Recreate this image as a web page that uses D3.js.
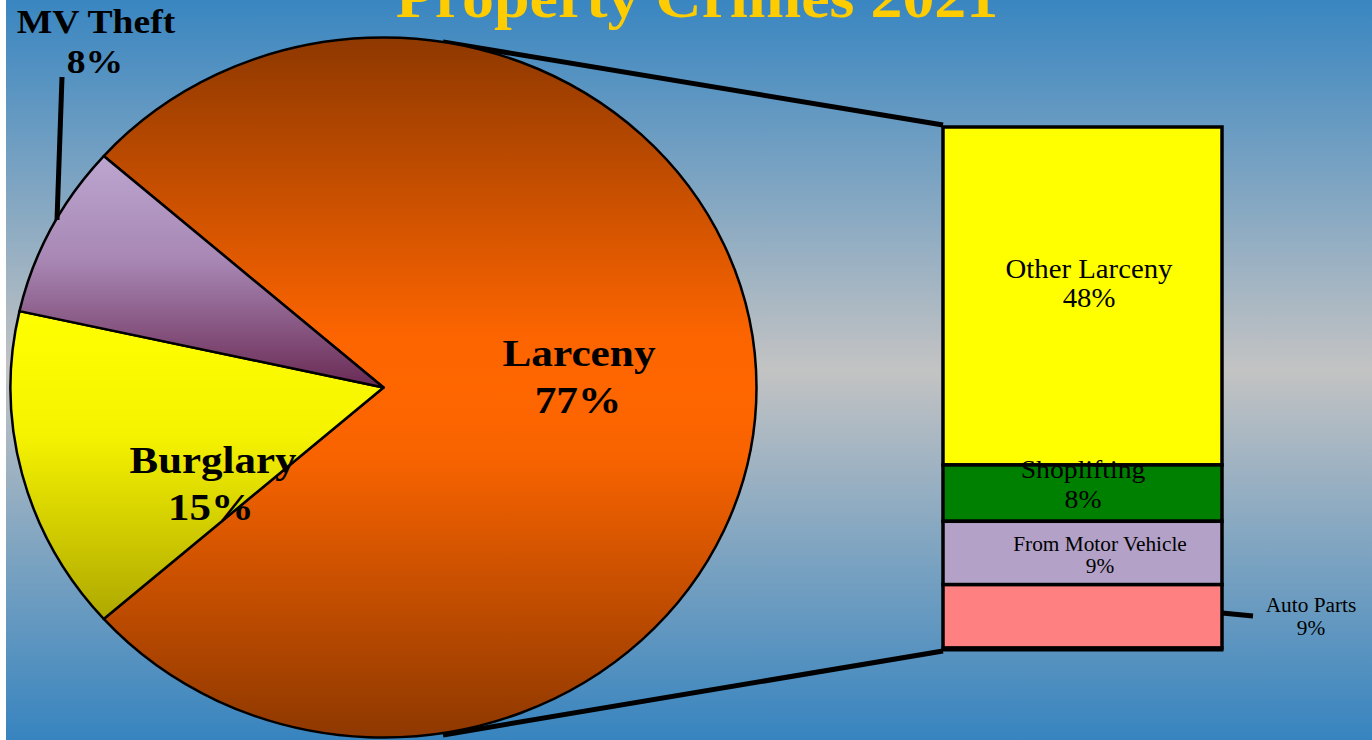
<!DOCTYPE html>
<html>
<head>
<meta charset="utf-8">
<script src="https://cdn.jsdelivr.net/npm/d3@7"></script>
<style>
  html, body { margin: 0; padding: 0; background: #fff; }
  svg { display: block; }
  text { font-family: "Liberation Serif", "Times New Roman", serif; }
</style>
</head>
<body>
<div id="chart"></div>
<script>
const WIDTH = 1372;
const HEIGHT = 740;

// data
const titleText = "Property Crimes 2021";
const pieNames = ["Larceny", "Burglary", "MV Theft"];
const pieValues = [77, 15, 8];
const barNames = ["Other Larceny", "Shoplifting", "From Motor Vehicle", "Auto Parts"];
const barValues = [48, 8, 9, 9];

// layout
const cx = 383.5, cy = 387.5, rx = 373, ry = 350;
const barLeft = 943, barRight = 1222, barTop = 127, barBottom = 648;
const sx = 1.066; // horizontal stretch of the picture

const svg = d3.select("#chart").append("svg")
    .attr("width", WIDTH)
    .attr("height", HEIGHT);
const defs = svg.append("defs");

function vgrad(id, stops) {
  const g = defs.append("linearGradient").attr("id", id)
      .attr("x1", 0).attr("y1", 0).attr("x2", 0).attr("y2", 1);
  stops.forEach(s => g.append("stop").attr("offset", s[0]).attr("stop-color", s[1]));
}
vgrad("bg", [[0, "#3986c1"], [0.5, "#c3c3c3"], [1, "#3784bf"]]);
vgrad("g0", [[0, "#8e3800"], [0.42, "#fb6400"], [0.5, "#ff6600"], [0.6, "#f86300"], [1, "#8e3800"]]);
vgrad("g1", [[0, "#ffff00"], [0.4, "#f6f300"], [1, "#aea800"]]);
vgrad("g2", [[0, "#bca6d0"], [0.45, "#a887b4"], [1, "#692a54"]]);

// background (white strip on the left edge)
svg.append("rect").attr("x", 6).attr("y", 0)
    .attr("width", WIDTH - 6).attr("height", HEIGHT)
    .attr("fill", "url(#bg)");

// leader lines from pie to bar
const lead = d3.line();
svg.append("path").attr("d", lead([[443, 42], [barLeft, 125]]))
    .attr("stroke", "#000").attr("stroke-width", 5).attr("fill", "none");
svg.append("path").attr("d", lead([[443, 735], [barLeft, 651]]))
    .attr("stroke", "#000").attr("stroke-width", 5).attr("fill", "none");

// pie (slightly elliptical)
const start = Math.PI / 2 - Math.PI * pieValues[0] / 100;
const pie = d3.pie().sort(null)
    .startAngle(start)
    .endAngle(start + 2 * Math.PI);
const arc = d3.arc().innerRadius(0).outerRadius(ry);
const pieG = svg.append("g")
    .attr("transform", `translate(${cx},${cy}) scale(${rx / ry},1)`);
pieG.selectAll("path")
  .data(pie(pieValues))
  .join("path")
    .attr("d", arc)
    .attr("fill", (d, i) => `url(#g${i})`)
    .attr("stroke", "#000")
    .attr("stroke-width", 2.5)
    .attr("stroke-linejoin", "round")
    .attr("vector-effect", "non-scaling-stroke");

// MV Theft leader
svg.append("path").attr("d", lead([[57, 220], [62, 77]]))
    .attr("stroke", "#000").attr("stroke-width", 5).attr("fill", "none");

// bar of pie
const total = d3.sum(barValues);
const y = d3.scaleLinear().domain([0, total]).range([barTop, barBottom]);
const cum = d3.cumsum(barValues);
const segs = barValues.map((v, i) => ({name: barNames[i], v: v, y0: cum[i] - v, y1: cum[i]}));
const barColors = ["#ffff00", "#008000", "#b3a1c8", "#ff8080"];

svg.selectAll("rect.seg")
  .data(segs)
  .join("rect")
    .attr("class", "seg")
    .attr("x", barLeft)
    .attr("y", d => y(d.y0))
    .attr("width", barRight - barLeft)
    .attr("height", d => y(d.y1) - y(d.y0))
    .attr("fill", (d, i) => barColors[i])
    .attr("stroke", "#000")
    .attr("stroke-width", 3.5);
svg.append("line")
    .attr("x1", barLeft - 1.5).attr("x2", barRight + 1.5)
    .attr("y1", barBottom + 1).attr("y2", barBottom + 1)
    .attr("stroke", "#000").attr("stroke-width", 5);

// Auto Parts leader
svg.append("path").attr("d", lead([[barRight, 613], [1253, 616]]))
    .attr("stroke", "#000").attr("stroke-width", 5).attr("fill", "none");

function label(x, yy, txt, size, weight, color, scale) {
  svg.append("text")
      .attr("transform", `translate(${x},${yy}) scale(${scale || sx},1)`)
      .attr("text-anchor", "middle")
      .attr("font-size", size)
      .attr("font-weight", weight)
      .attr("fill", color || "#000")
      .text(txt);
}

// title
label(697, 17, titleText, 60, "bold", "#ffcc00");

// pie labels
label(579, 366, pieNames[0], 38, "bold", "#000", 1.14);
label(578, 413, pieValues[0] + "%", 38, "bold", "#000", 1.14);
label(213, 473, pieNames[1], 38, "bold", "#000", 1.13);
label(211, 520, pieValues[1] + "%", 38, "bold", "#000", 1.13);
label(96, 33, pieNames[2], 33, "bold", "#000", 1.14);
label(95, 73, pieValues[2] + "%", 33, "bold", "#000", 1.14);

// bar labels: [x, line1 offset, line2 offset, font size] relative to segment middle
const barLabelPos = [[1089, -18, 11, 27], [1083, -15, 15, 26], [1100, -2, 20, 20]];
barLabelPos.forEach((p, i) => {
  const mid = (y(segs[i].y0) + y(segs[i].y1)) / 2;
  label(p[0], mid + p[1], segs[i].name, p[3], "normal");
  label(p[0], mid + p[2], segs[i].v + "%", p[3], "normal");
});
label(1311, 612, segs[3].name, 20, "normal");
label(1311, 635, segs[3].v + "%", 20, "normal");
</script>
</body>
</html>
